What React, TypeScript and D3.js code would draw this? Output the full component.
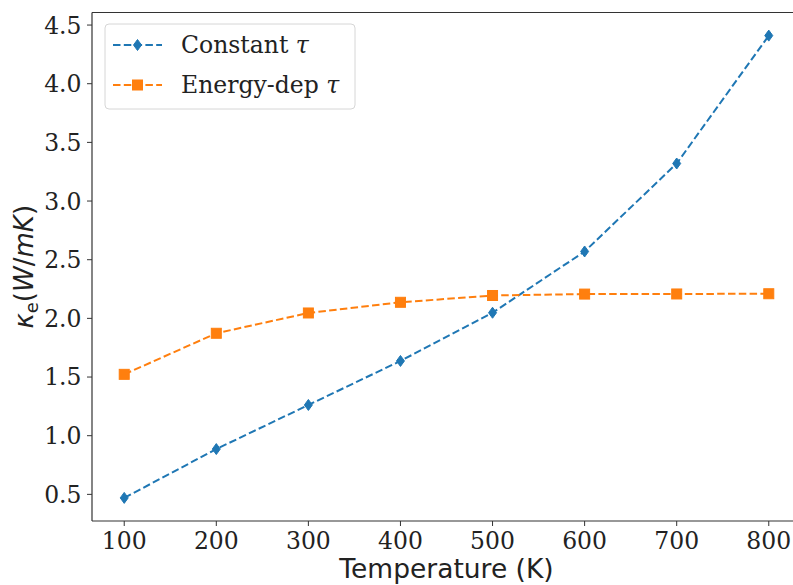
import React from "react";
import * as d3 from "d3";

const temperatures = [100, 200, 300, 400, 500, 600, 700, 800];
const constantTau = [0.47, 0.886, 1.262, 1.637, 2.048, 2.57, 3.32, 4.41];
const energyDepTau = [1.523, 1.873, 2.046, 2.137, 2.195, 2.207, 2.208, 2.21];
const xTicks = [100, 200, 300, 400, 500, 600, 700, 800];
const yTicks = [0.5, 1.0, 1.5, 2.0, 2.5, 3.0, 3.5, 4.0, 4.5];
const seriesNames = ["Constant", "Energy-dep"];

const W = 793;
const H = 585;
const left = 92;
const right = 801;
const top = 12.5;
const bottom = 521;
const blue = "#1f77b4";
const orange = "#ff7f0e";

export default function App() {
  const x = d3.scaleLinear().domain([65, 835]).range([left, right]);
  const y = d3.scaleLinear().domain([0.273, 4.607]).range([bottom, top]);
  const line = d3
    .line<[number, number]>()
    .x((d) => x(d[0]))
    .y((d) => y(d[1]));
  const blueData = temperatures.map((t, i) => [t, constantTau[i]] as [number, number]);
  const orangeData = temperatures.map((t, i) => [t, energyDepTau[i]] as [number, number]);
  const serif = "'DejaVu Serif', serif";
  const sans = "'DejaVu Sans', sans-serif";
  const diamond = (cx: number, cy: number) =>
    `M${cx},${cy - 5.5}L${cx + 4},${cy}L${cx},${cy + 5.5}L${cx - 4},${cy}Z`;
  const dash = "7.5,3.3";
  const tickFs = 23.5;

  return (
    <svg
      width={W}
      height={H}
      style={{ position: "absolute", left: 0, top: 0, background: "#fff" }}
    >
      <rect x={0} y={0} width={W} height={H} fill="#fff" />
      <defs>
        <clipPath id="plotclip">
          <rect x={left} y={top} width={right - left} height={bottom - top} />
        </clipPath>
      </defs>
      <g clipPath="url(#plotclip)">
        <path d={line(blueData) || ""} fill="none" stroke={blue} strokeWidth={2} strokeDasharray={dash} />
        <path d={line(orangeData) || ""} fill="none" stroke={orange} strokeWidth={2} strokeDasharray={dash} />
        {blueData.map((d, i) => (
          <path key={"b" + i} d={diamond(x(d[0]), y(d[1]))} fill={blue} stroke={blue} strokeWidth={1} />
        ))}
        {orangeData.map((d, i) => (
          <rect key={"o" + i} x={x(d[0]) - 5} y={y(d[1]) - 5} width={10} height={10} fill={orange} stroke={orange} strokeWidth={1} />
        ))}
      </g>
      {/* spines */}
      <line x1={left} y1={top} x2={W} y2={top} stroke="#333" strokeWidth={1.2} />
      <line x1={left} y1={top} x2={left} y2={bottom} stroke="#333" strokeWidth={1.2} />
      <line x1={left} y1={bottom} x2={W} y2={bottom} stroke="#333" strokeWidth={1.2} />
      {/* x ticks */}
      {xTicks.map((t) => (
        <g key={"xt" + t}>
          <line x1={x(t)} y1={bottom} x2={x(t)} y2={bottom + 5} stroke="#333" strokeWidth={1} />
          <text x={x(t)} y={549} textAnchor="middle" fontFamily={serif} fontSize={tickFs} fill="#222">
            {t}
          </text>
        </g>
      ))}
      {/* y ticks */}
      {yTicks.map((t) => (
        <g key={"yt" + t}>
          <line x1={left - 5} y1={y(t)} x2={left} y2={y(t)} stroke="#333" strokeWidth={1} />
          <text x={81.5} y={y(t)} dy="0.36em" textAnchor="end" fontFamily={serif} fontSize={tickFs} fill="#222">
            {t.toFixed(1)}
          </text>
        </g>
      ))}
      {/* axis labels */}
      <text x={(left + right) / 2} y={578} textAnchor="middle" fontFamily={sans} fontSize={26.5} fill="#222">
        Temperature (K)
      </text>
      <text
        transform={`translate(33, ${(top + bottom) / 2}) rotate(-90)`}
        textAnchor="middle"
        fontFamily={sans}
        fontSize={26}
        fill="#222"
      >
        <tspan fontStyle="italic">κ</tspan>
        <tspan fontSize={18} dy={5}>e</tspan>
        <tspan dy={-5}>(</tspan>
        <tspan fontStyle="italic">W</tspan>
        <tspan>/</tspan>
        <tspan fontStyle="italic">mK</tspan>
        <tspan>)</tspan>
      </text>
      {/* legend */}
      <rect x={105} y={24} width={250} height={85} rx={4} fill="#fff" fillOpacity={0.8} stroke="#d6d6d6" strokeWidth={1} />
      <line x1={113} y1={45} x2={162} y2={45} stroke={blue} strokeWidth={2} strokeDasharray={dash} />
      <path d={diamond(137.5, 45)} fill={blue} stroke={blue} strokeWidth={1} />
      <text x={181} y={45} dy="0.36em" fontFamily={serif} fontSize={tickFs} fill="#222">
        {seriesNames[0]} <tspan fontStyle="italic">τ</tspan>
      </text>
      <line x1={113} y1={85} x2={162} y2={85} stroke={orange} strokeWidth={2} strokeDasharray={dash} />
      <rect x={132.5} y={80} width={10} height={10} fill={orange} stroke={orange} strokeWidth={1} />
      <text x={181} y={85} dy="0.36em" fontFamily={serif} fontSize={tickFs} fill="#222">
        {seriesNames[1]} <tspan fontStyle="italic">τ</tspan>
      </text>
    </svg>
  );
}
